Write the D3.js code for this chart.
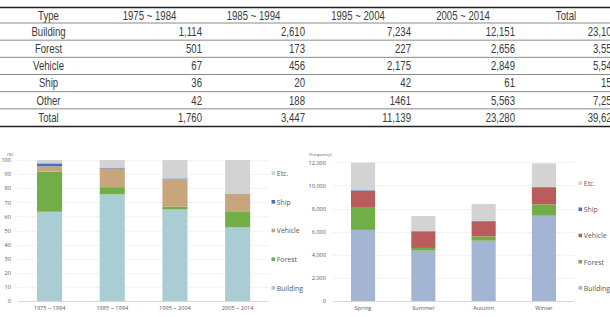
<!DOCTYPE html>
<html>
<head>
<meta charset="utf-8">
<script src="https://cdn.jsdelivr.net/npm/d3@7"></script>
<style>
  body { margin: 0; background: #fff; }
  svg { display: block; overflow: hidden; }
  .tbl text { font-family: "Liberation Sans", Arial, sans-serif; font-size: 12px; fill: #3a3a3a; }
  .chart text { font-family: "Open Sans", sans-serif; fill: #595959; }
</style>
</head>
<body>
<div id="chart"></div>
<script>
// table data
const TYPES = ["Building", "Forest", "Vehicle", "Ship", "Other"]
const PERIODS = ["1975 ~ 1984", "1985 ~ 1994", "1995 ~ 2004", "2005 ~ 2014"]
const BUILDING = [1114, 2610, 7234, 12151]
const FOREST = [501, 173, 227, 2656]
const VEHICLE = [67, 456, 2175, 2849]
const SHIP = [36, 20, 42, 61]
const OTHER = [42, 188, 1461, 5563]
const TOTALS = [23109, 3557, 5547, 159, 7254]
const COL_TOTALS = [1760, 3447, 11139, 23280, 39626]

// right chart: frequency by season
const SEASONS = ["Spring", "Summer", "Autumn", "Winter"]
const S_BUILDING = [6150, 4360, 5220, 7380]
const S_FOREST = [1980, 230, 370, 980]
const S_VEHICLE = [1420, 1430, 1300, 1470]
const S_SHIP = [40, 30, 40, 49]
const S_ETC = [2380, 1300, 1460, 2030]

const LEGEND = ["Building", "Forest", "Vehicle", "Ship", "Etc."]
const PCT_TICKS = [0, 10, 20, 30, 40, 50, 60, 70, 80, 90, 100]
const FREQ_TICKS = [0, 2000, 4000, 6000, 8000, 10000, 12000]

const WIDTH = 610
const HEIGHT = 317
const SQUEEZE = 0.8 // table font is a condensed face

const svg = d3.select("#chart").append("svg")
  .attr("width", WIDTH)
  .attr("height", HEIGHT)

// ---------- table ----------
const fmt = d3.format(",")
const tbl = svg.append("g").attr("class", "tbl")
const colEdges = [0, 97, 202, 305, 411, 515, 617]
const header = ["Type"].concat(PERIODS, ["Total"])
const rows = TYPES.map((t, i) => {
  const vals = [BUILDING, FOREST, VEHICLE, SHIP, OTHER][i]
  // "Other" of 1995 ~ 2004 is printed without a comma in the source
  return [t].concat(vals.map((v, j) => (i === 4 && j === 2) ? String(v) : fmt(v)), [fmt(TOTALS[i])])
})
rows.push(["Total"].concat(COL_TOTALS.map(fmt)))

const rowY = d3.scaleBand().domain(d3.range(rows.length)).range([23, 126])

tbl.append("line").attr("x1", 0).attr("x2", WIDTH).attr("y1", 7.5).attr("y2", 7.5)
  .attr("stroke", "#222").attr("stroke-width", 1.6)
tbl.selectAll("line.inner").data(d3.range(rows.length)).enter().append("line")
  .attr("class", "inner")
  .attr("x1", 0).attr("x2", WIDTH)
  .attr("y1", d => rowY(d)).attr("y2", d => rowY(d))
  .attr("stroke", "#8a8a8a").attr("stroke-width", 1)
tbl.append("line").attr("x1", 0).attr("x2", WIDTH).attr("y1", 126.5).attr("y2", 126.5)
  .attr("stroke", "#222").attr("stroke-width", 1.6)

tbl.selectAll("text.h").data(header).enter().append("text")
  .attr("class", "h")
  .attr("transform", (d, i) => `translate(${(colEdges[i] + colEdges[i + 1]) / 2},19.5) scale(${SQUEEZE},1)`)
  .attr("text-anchor", "middle")
  .text(d => d)

rows.forEach((r, ri) => {
  const ty = rowY(ri) + rowY.bandwidth() / 2 + 4.3
  tbl.selectAll("text.r" + ri).data(r).enter().append("text")
    .attr("class", "r" + ri)
    .attr("transform", (d, i) => {
      const tx = i === 0 ? (colEdges[0] + colEdges[1]) / 2 : colEdges[i + 1]
      return `translate(${tx},${ty}) scale(${SQUEEZE},1)`
    })
    .attr("text-anchor", (d, i) => i === 0 ? "middle" : "end")
    .text(d => d)
})

// ---------- stacked bar helper ----------
function stackedChart(opts) {
  const g = svg.append("g").attr("class", "chart")
  const x = d3.scaleBand().domain(opts.cats).range(opts.xRange)
    .paddingInner(0.6).paddingOuter(0.3)
  const y = d3.scaleLinear().domain([0, opts.max]).range([301, opts.yTop])

  // faint gridlines
  g.selectAll("line.grid").data(opts.ticks).enter().append("line")
    .attr("class", "grid")
    .attr("x1", opts.xRange[0]).attr("x2", opts.xRange[1])
    .attr("y1", d => Math.round(y(d)) + 0.5).attr("y2", d => Math.round(y(d)) + 0.5)
    .attr("stroke", d => d === 0 ? "#d9d9d9" : "#f3f3f3")

  const table = opts.cats.map((c, i) => {
    const row = { cat: c }
    opts.keys.forEach((k, j) => row[k] = opts.series[j][i])
    return row
  })
  const stack = d3.stack().keys(opts.keys)
  if (opts.expand) stack.offset(d3.stackOffsetExpand)
  const layers = stack(table)
  const k = opts.expand ? 100 : 1

  g.selectAll("g.layer").data(layers).enter().append("g")
    .attr("class", "layer")
    .attr("fill", (d, i) => opts.colors[i])
    .selectAll("rect").data(d => d).enter().append("rect")
    .attr("x", d => x(d.data.cat))
    .attr("width", x.bandwidth())
    .attr("y", d => y(d[1] * k))
    .attr("height", d => y(d[0] * k) - y(d[1] * k))

  const yAxis = d3.axisLeft(y).tickValues(opts.ticks).tickSize(0).tickPadding(3)
    .tickFormat(opts.tickFormat)
  const ya = g.append("g").attr("transform", `translate(${opts.axisX},0)`).call(yAxis)
  ya.select(".domain").remove()
  ya.selectAll("text").attr("font-size", 5.6).attr("fill", "#595959")
    .attr("font-family", "Open Sans, sans-serif")

  const xAxis = d3.axisBottom(x).tickSize(0).tickPadding(5)
  const xa = g.append("g").attr("transform", "translate(0,301)").call(xAxis)
  xa.select(".domain").remove()
  xa.selectAll("text").attr("font-size", 5.6).attr("fill", "#595959")
    .attr("font-family", "Open Sans, sans-serif")

  g.append("text").attr("x", opts.unitX).attr("y", 155.5)
    .attr("font-size", 4.2).text(opts.unit)

  // legend, top item = last series
  const lg = g.selectAll("g.leg").data(opts.legend.slice().reverse()).enter().append("g")
    .attr("class", "leg")
    .attr("transform", (d, i) => `translate(${opts.legX},${opts.legY0 + i * opts.legStep})`)
  lg.append("rect").attr("x", 0).attr("y", -2.2).attr("width", 3.6).attr("height", 3.6)
    .attr("fill", (d, i) => opts.colors[opts.legend.length - 1 - i])
  lg.append("text").attr("x", 5.3).attr("y", 2.5).attr("font-size", opts.legFont).text(d => d)
}

stackedChart({
  cats: PERIODS,
  keys: LEGEND,
  series: [BUILDING, FOREST, VEHICLE, SHIP, OTHER],
  expand: true,
  max: 100,
  yTop: 160,
  xRange: [18.2, 269],
  ticks: PCT_TICKS,
  tickFormat: d => d,
  axisX: 14,
  unit: "(%)",
  unitX: 7,
  colors: ["#a9cdd2", "#72ae48", "#c9a57b", "#4472c4", "#d3d3d3"],
  legend: LEGEND,
  legX: 271.5, legY0: 173.5, legStep: 28.7, legFont: 6.9
})

stackedChart({
  cats: SEASONS,
  keys: LEGEND,
  series: [S_BUILDING, S_FOREST, S_VEHICLE, S_SHIP, S_ETC],
  expand: false,
  max: 12000,
  yTop: 162.3,
  xRange: [332.9, 574.1],
  ticks: FREQ_TICKS,
  tickFormat: d3.format(","),
  axisX: 329,
  unit: "(Frequency)",
  unitX: 309,
  colors: ["#a3b5d3", "#72ae48", "#b95c5c", "#4472c4", "#d3d3d3"],
  legend: LEGEND,
  legX: 578.5, legY0: 183.5, legStep: 26.2, legFont: 6.9
})
</script>
</body>
</html>
